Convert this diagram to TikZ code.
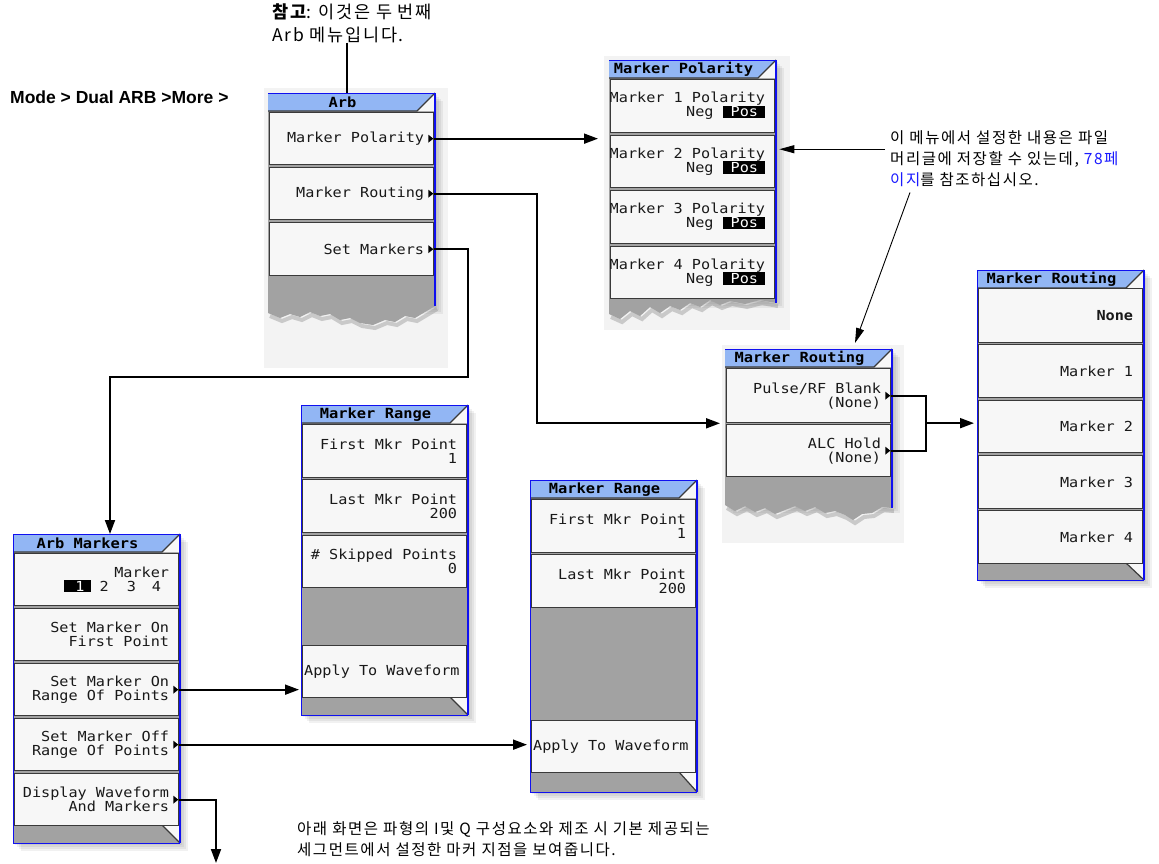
\documentclass[tikz,border=0pt]{standalone}
\usepackage{fontspec}
\setmainfont{Liberation Sans}
\newfontfamily\kr[LetterSpace=10]{Noto Sans CJK KR}
\newfontfamily\scr[FakeStretch=1.1]{DejaVu Sans Mono}
\newfontfamily\hel{Liberation Sans}
\usetikzlibrary{arrows.meta,calc}
\definecolor{titleblue}{HTML}{92B6F4}
\definecolor{frameblue}{HTML}{1010F0}
\definecolor{menugray}{HTML}{A2A2A2}
\definecolor{btnfill}{HTML}{F7F7F7}
\definecolor{btnline}{HTML}{3A3A3A}
\definecolor{panel}{HTML}{F3F3F3}
\definecolor{linkblue}{HTML}{1A1AFF}
\setlength{\fboxsep}{1pt}
\newcommand\posbox{\colorbox{black}{\textcolor{white}{\hspace{7pt}Pos\hspace{6pt}}}}
\newcommand\onebox{\colorbox{black}{\textcolor{white}{\hspace{10pt}1\hspace{5pt}}}}
\newcommand\shadowbox[4]{\foreach \s in {2,4,6,8}{\fill[black,opacity=.055] (#1+\s,#2+\s) rectangle (#3+\s,#4+\s);}}
\newcommand\titlebar[4]{%
  \fill[btnfill] (#3,#2) -- (#3,#2+18) -- (#3-18,#2+18) -- cycle;
  \fill[titleblue] (#1,#2) -- (#3,#2) -- (#3-18,#2+18) -- (#1,#2+18) -- cycle;
  \draw[btnline,line width=1.3pt] (#1,#2+18) -- (#3-18,#2+18) -- (#3,#2);
  \node[ttl] at ({(#1+#3-18)/2},#2+9.5) {#4};
  \draw[frameblue,line width=1pt] (#1,#2) -- (#3,#2);}
\newcommand\fullmenu[6]{% x0 ytop x1 ylast ybot title
  \shadowbox{#1}{#2}{#3}{#5}
  \fill[menugray] (#1,#2) rectangle (#3,#5);
  \fill[btnfill] (#3-18,#4) -- (#3,#4) -- (#3,#5) -- cycle;
  \draw[btnline,line width=1.2pt] (#3-18,#4) -- (#3,#5);
  \titlebar{#1}{#2}{#3}{#6}}
\newcommand\fullframe[4]{%
  \draw[frameblue,line width=1pt] (#1,#2) -- (#1,#4) -- (#3,#4);
  \draw[frameblue,line width=2.5pt] (#3,#2) -- (#3,#4);}
\newcommand\tri[1]{\fill ($(#1.east)+(-6,-4)$) -- ($(#1.east)+(-1,0)$) -- ($(#1.east)+(-6,4)$) -- cycle;}
\def\arbtear{(435,306) -- (425,312) -- (415,318) -- (405,316) -- (395,322) -- (385,320) -- (373,325) -- (360,323) -- (350,318) -- (340,320) -- (330,314) -- (320,316) -- (310,312) -- (300,317) -- (290,314) -- (280,318) -- (268,313)}
\def\poltear{(776,303) -- (760,300) -- (745,304) -- (730,301) -- (720,305) -- (710,300) -- (700,307) -- (690,303) -- (680,310) -- (670,306) -- (660,313) -- (650,307) -- (640,316) -- (630,311) -- (620,319) -- (609,314)}
\def\rttear{(892,508) -- (882,507) -- (872,513) -- (862,514) -- (853,520) -- (845,515) -- (835,511) -- (825,513) -- (815,507) -- (805,511) -- (795,506) -- (785,510) -- (775,514) -- (765,508) -- (755,512) -- (745,506) -- (735,511) -- (725,505)}
\tikzset{
  btn/.style={draw=btnline, fill=btnfill, line width=1.3pt, inner sep=0pt, anchor=north west},
  lbl/.style={font={\scr\fontsize{13.8}{14}\selectfont}, align=right, anchor=east, inner sep=0pt, text=black!90},
  ttl/.style={font={\scr\bfseries\fontsize{14}{14}\selectfont}, inner sep=0pt, text=black},
  conn/.style={line width=1.8pt, -{Triangle[length=14pt,width=10pt]}},
  thinarrow/.style={line width=0.9pt, -{Triangle[length=15pt,width=8pt]}},
  kor/.style={font={\kr\fontsize{15.5}{21}\selectfont}, align=left, inner sep=0pt, anchor=north west},
  tearshadow/.style={black!45, line width=4pt, opacity=.4}
}
\begin{document}
\begin{tikzpicture}[x=1pt,y=-1pt]
\useasboundingbox (0,0) rectangle (1159,863);
\fill[white] (0,0) rectangle (1159,863);

% ---------- texts ----------
\node[font={\hel\bfseries\fontsize{17.5}{20}\selectfont}, anchor=west, inner sep=0pt] (mode) at (10,97) {Mode > Dual ARB >More >};
\node[kor, font={\kr\fontsize{17.5}{23}\selectfont}] (note) at (272,3) {{\bfseries 참고}: 이것은 두 번째\\Arb 메뉴입니다.};
\node[kor] (ann) at (890,130) {이 메뉴에서 설정한 내용은 파일\\머리글에 저장할 수 있는데, \textcolor{linkblue}{78페}\\\textcolor{linkblue}{이지}를 참조하십시오.};
\node[kor] (bot) at (297,821) {아래 화면은 파형의 I및 Q 구성요소와 제조 시 기본 제공되는\\세그먼트에서 설정한 마커 지점을 보여줍니다.};

% ---------- Arb (torn) ----------
\fill[panel] (264,88) rectangle (448,368);
\shadowbox{268}{93}{435}{306}
\draw[tearshadow, shift={(2,3)}] \arbtear;
\fill[menugray] (268,93) -- \arbtear -- cycle;
\fill[menugray] (268,93) -- (435,93) -- (435,306) -- (268,313) -- cycle;
\titlebar{268}{93}{435}{Arb}
\node[btn, minimum width=164pt, minimum height=52pt] (arb1) at (269,112) {};
\node[btn, minimum width=164pt, minimum height=52pt] (arb2) at (269,167) {};
\node[btn, minimum width=164pt, minimum height=53pt] (arb3) at (269,222) {};
\node[lbl] at ($(arb1.east)+(-10,0)$) {Marker Polarity};
\node[lbl] at ($(arb2.east)+(-10,0)$) {Marker Routing};
\node[lbl] at ($(arb3.east)+(-10,0)$) {Set Markers};
\tri{arb1}\tri{arb2}\tri{arb3}
\draw[frameblue,line width=2.5pt] (435,93) -- (435,306);
\coordinate (arbT) at (347,93);

% ---------- Marker Polarity (torn) ----------
\fill[panel] (604,56) rectangle (790,330);
\shadowbox{609}{60}{776}{300}
\draw[tearshadow, shift={(2,3)}] \poltear;
\fill[menugray] (609,60) -- (776,60) -- \poltear -- cycle;
\titlebar{609}{60}{776}{Marker Polarity}
\node[btn, minimum width=164pt, minimum height=53pt] (pol1) at (610,79) {};
\node[btn, minimum width=164pt, minimum height=52pt] (pol2) at (610,135) {};
\node[btn, minimum width=164pt, minimum height=53pt] (pol3) at (610,190) {};
\node[btn, minimum width=164pt, minimum height=52pt] (pol4) at (610,246) {};
\node[lbl] at ($(pol1.east)+(-10,0)$) {Marker 1 Polarity\\Neg \posbox};
\node[lbl] at ($(pol2.east)+(-10,0)$) {Marker 2 Polarity\\Neg \posbox};
\node[lbl] at ($(pol3.east)+(-10,0)$) {Marker 3 Polarity\\Neg \posbox};
\node[lbl] at ($(pol4.east)+(-10,0)$) {Marker 4 Polarity\\Neg \posbox};
\draw[frameblue,line width=2.5pt] (776,60) -- (776,303);

% ---------- Marker Routing middle (torn) ----------
\fill[panel] (722,345) rectangle (904,543);
\shadowbox{725}{349}{892}{505}
\draw[tearshadow, shift={(2,3)}] \rttear;
\fill[menugray] (725,349) -- (892,349) -- \rttear -- cycle;
\titlebar{725}{349}{892}{Marker Routing}
\node[btn, minimum width=164pt, minimum height=54pt] (rt1) at (726,368) {};
\node[btn, minimum width=164pt, minimum height=52pt] (rt2) at (726,424) {};
\node[lbl] at ($(rt1.east)+(-10,0)$) {Pulse/RF Blank\\(None)};
\node[lbl] at ($(rt2.east)+(-10,0)$) {ALC Hold\\(None)};
\tri{rt1}\tri{rt2}
\draw[frameblue,line width=2.5pt] (892,349) -- (892,508);

% ---------- Marker Routing right ----------
\fullmenu{977}{270}{1144}{563}{580}{Marker Routing}
\node[btn, minimum width=164pt, minimum height=54pt] (rr0) at (978,288) {};
\node[btn, minimum width=164pt, minimum height=53pt] (rr1) at (978,344) {};
\node[btn, minimum width=164pt, minimum height=52pt] (rr2) at (978,400) {};
\node[btn, minimum width=164pt, minimum height=53pt] (rr3) at (978,455) {};
\node[btn, minimum width=164pt, minimum height=53pt] (rr4) at (978,510) {};
\node[lbl] at ($(rr0.east)+(-10,0)$) {\bfseries None};
\node[lbl] at ($(rr1.east)+(-10,0)$) {Marker 1};
\node[lbl] at ($(rr2.east)+(-10,0)$) {Marker 2};
\node[lbl] at ($(rr3.east)+(-10,0)$) {Marker 3};
\node[lbl] at ($(rr4.east)+(-10,0)$) {Marker 4};
\fullframe{977}{270}{1144}{580}

% ---------- Arb Markers ----------
\fullmenu{13}{534}{180}{825}{843}{Arb Markers}
\node[btn, minimum width=164pt, minimum height=52pt] (am1) at (14,553) {};
\node[btn, minimum width=164pt, minimum height=52pt] (am2) at (14,608) {};
\node[btn, minimum width=164pt, minimum height=52pt] (am3) at (14,663) {};
\node[btn, minimum width=164pt, minimum height=52pt] (am4) at (14,718) {};
\node[btn, minimum width=164pt, minimum height=52pt] (am5) at (14,773) {};
\node[lbl] at ($(am1.east)+(-10,0)$) {Marker\\\onebox\ 2\hspace{18pt}3\hspace{16pt}4\rule{8pt}{0pt}};
\node[lbl] at ($(am2.east)+(-10,0)$) {Set Marker On\\First Point};
\node[lbl] at ($(am3.east)+(-10,0)$) {Set Marker On\\Range Of Points};
\node[lbl] at ($(am4.east)+(-10,0)$) {Set Marker Off\\Range Of Points};
\node[lbl] at ($(am5.east)+(-10,0)$) {Display Waveform\\And Markers};
\tri{am3}\tri{am4}\tri{am5}
\fullframe{13}{534}{180}{843}
\coordinate (am) at (13,534);

% ---------- Marker Range 1 ----------
\fullmenu{301}{405}{468}{697}{715}{Marker Range}
\node[btn, minimum width=164pt, minimum height=53pt] (mr1) at (302,424) {};
\node[btn, minimum width=164pt, minimum height=53pt] (mr2) at (302,479) {};
\node[btn, minimum width=164pt, minimum height=52pt] (mr3) at (302,535) {};
\node[btn, minimum width=164pt, minimum height=52pt] (mra) at (302,645) {};
\node[lbl] at ($(mr1.east)+(-10,0)$) {First Mkr Point\\1};
\node[lbl] at ($(mr2.east)+(-10,0)$) {Last Mkr Point\\200};
\node[lbl] at ($(mr3.east)+(-10,0)$) {\# Skipped Points\\0};
\node[lbl, anchor=west] at ($(mra.west)+(2,0)$) {Apply To Waveform};
\fullframe{301}{405}{468}{715}

% ---------- Marker Range 2 ----------
\fullmenu{530}{480}{697}{772}{792}{Marker Range}
\node[btn, minimum width=164pt, minimum height=53pt] (ms1) at (531,499) {};
\node[btn, minimum width=164pt, minimum height=53pt] (ms2) at (531,554) {};
\node[btn, minimum width=164pt, minimum height=52pt] (msa) at (531,720) {};
\node[lbl] at ($(ms1.east)+(-10,0)$) {First Mkr Point\\1};
\node[lbl] at ($(ms2.east)+(-10,0)$) {Last Mkr Point\\200};
\node[lbl, anchor=west] at ($(msa.west)+(2,0)$) {Apply To Waveform};
\fullframe{530}{480}{697}{792}

% ---------- connectors ----------
\coordinate (turnA) at (110,377);
\coordinate (dwEnd) at (216,863);
\coordinate (rtTip) at (855,343);
\draw[line width=1.6pt] (note.south -| arbT) -- (arbT);
\draw[conn] (arb1.east) -- ($(arb1.east -| pol1.west)+(-12,0)$);
\draw[conn] (arb2.east) -- ++(103,0) |- ($(rt1.south west)+(-6,0)$);
\draw[conn] (arb3.east) -- ++(34,0) |- (turnA) -- (turnA |- am);
\draw[conn] (am3.east) -- ($(am3.east -| mra.west)+(-3,0)$);
\draw[conn] (am4.east) -- ($(am4.east -| msa.west)+(-4,0)$);
\draw[conn] (am5.east) -| (dwEnd);
\draw[line width=1.8pt] (rt1.east) -- ++(35,0) |- (rt2.east);
\coordinate (J) at ($(rt1.east)!.5!(rt2.east)+(35,0)$);
\draw[conn] (J) -- ($(J -| rr2.west)+(-4,0)$);
\coordinate (annA) at ($(ann.west)+(-5,-9)$);
\draw[thinarrow] (annA) -- ($(annA -| pol2.east)+(4,0)$);
\draw[thinarrow] ($(ann.south west)+(20,6)$) -- (rtTip);
\end{tikzpicture}
\end{document}
